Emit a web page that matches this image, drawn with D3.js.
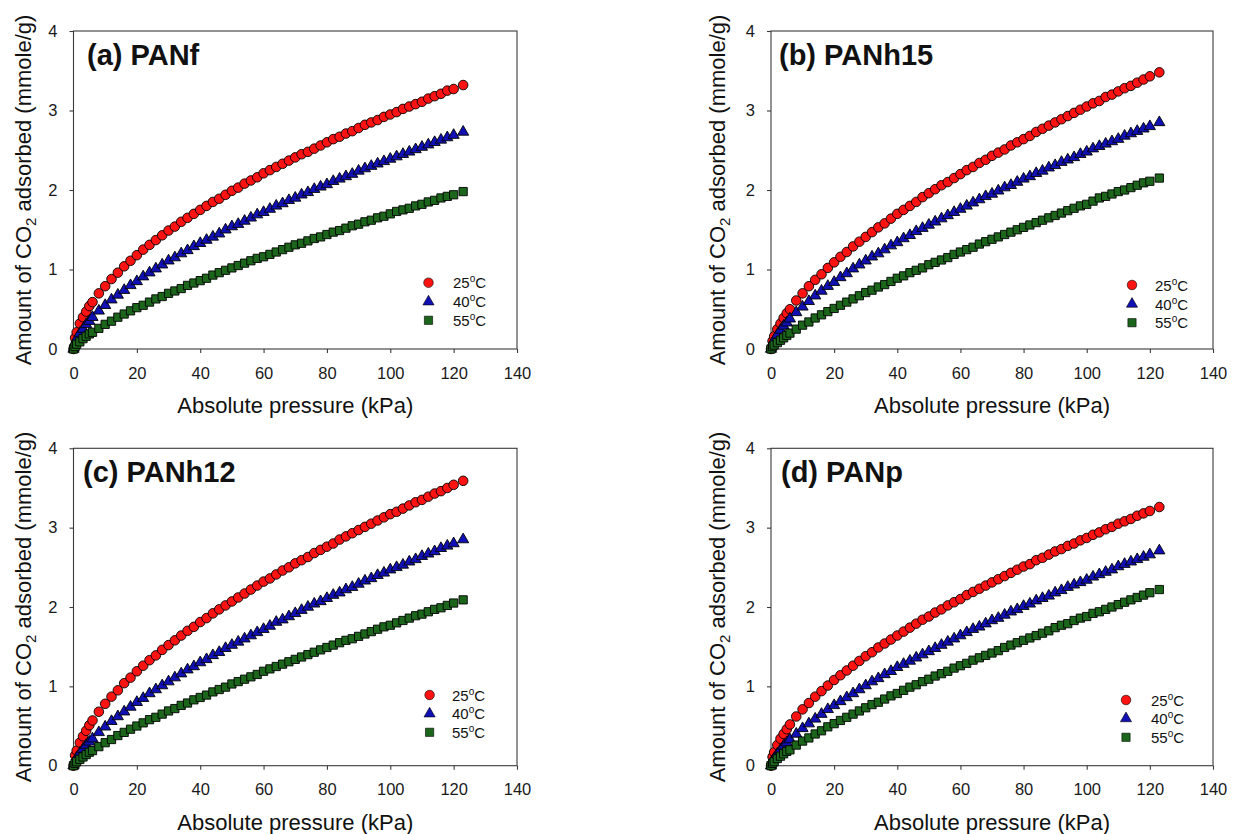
<!DOCTYPE html>
<html>
<head>
<meta charset="utf-8">
<script src="https://cdn.jsdelivr.net/npm/d3@7/dist/d3.min.js"></script>
<style>
html,body{margin:0;padding:0;background:#fff;}
svg{display:block;font-family:"Liberation Sans",Arial,sans-serif;}
</style>
</head>
<body>
<svg id="chart" width="1234" height="834"></svg>
<script>
// ---------- DATA ----------
const pressure = [0,0.5,1,2,3,4,5,6,8,10,12,14,16,18,20,22,24,26,28,30,32,34,36,38,40,42,44,46,48,50,52,54,56,58,60,62,64,66,68,70,72,74,76,78,80,82,84,86,88,90,92,94,96,98,100,102,104,106,108,110,112,114,116,118,120,123];

const panelTitles = ["(a) PANf", "(b) PANh15", "(c) PANh12", "(d) PANp"];
const temperatures = ["25", "40", "55"];
const xTicks = [0,20,40,60,80,100,120,140];
const yTicks = [0,1,2,3,4];

const a25 = [0,0.14,0.21,0.32,0.40,0.47,0.54,0.59,0.70,0.79,0.88,0.96,1.04,1.11,1.18,1.25,1.31,1.37,1.43,1.49,1.54,1.60,1.65,1.70,1.75,1.80,1.85,1.89,1.94,1.99,2.03,2.08,2.12,2.16,2.21,2.25,2.29,2.33,2.37,2.41,2.45,2.48,2.52,2.56,2.60,2.64,2.67,2.71,2.74,2.78,2.82,2.85,2.88,2.92,2.95,2.98,3.02,3.05,3.08,3.11,3.15,3.18,3.21,3.25,3.27,3.32];
const a40 = [0,0.08,0.13,0.20,0.25,0.31,0.35,0.40,0.48,0.55,0.62,0.68,0.74,0.80,0.85,0.91,0.96,1.01,1.06,1.11,1.15,1.20,1.24,1.29,1.33,1.37,1.41,1.45,1.50,1.54,1.57,1.61,1.65,1.69,1.72,1.76,1.80,1.83,1.87,1.90,1.94,1.97,2.01,2.04,2.07,2.11,2.14,2.17,2.20,2.24,2.27,2.30,2.33,2.36,2.39,2.42,2.45,2.48,2.51,2.54,2.57,2.60,2.63,2.66,2.69,2.73];
const a55 = [0,0.03,0.06,0.09,0.13,0.16,0.19,0.21,0.26,0.31,0.35,0.40,0.44,0.48,0.52,0.55,0.59,0.63,0.66,0.70,0.73,0.76,0.80,0.83,0.86,0.89,0.93,0.96,0.99,1.02,1.05,1.08,1.11,1.14,1.16,1.19,1.22,1.25,1.28,1.31,1.33,1.36,1.39,1.41,1.44,1.47,1.49,1.52,1.55,1.57,1.60,1.62,1.65,1.67,1.70,1.73,1.75,1.77,1.80,1.82,1.85,1.87,1.90,1.92,1.94,1.98];

const b25 = [0,0.10,0.16,0.25,0.32,0.39,0.45,0.50,0.61,0.70,0.79,0.87,0.94,1.02,1.09,1.16,1.22,1.29,1.35,1.41,1.47,1.53,1.58,1.64,1.70,1.75,1.80,1.85,1.91,1.96,2.01,2.06,2.10,2.15,2.20,2.25,2.29,2.34,2.38,2.43,2.47,2.51,2.56,2.60,2.64,2.68,2.73,2.77,2.81,2.85,2.89,2.93,2.97,3.01,3.05,3.09,3.12,3.17,3.20,3.24,3.28,3.31,3.35,3.39,3.43,3.48];
const b40 = [0,0.07,0.11,0.18,0.24,0.29,0.33,0.38,0.46,0.53,0.60,0.67,0.73,0.79,0.84,0.90,0.95,1.01,1.06,1.11,1.16,1.20,1.25,1.30,1.34,1.39,1.43,1.48,1.52,1.56,1.60,1.64,1.68,1.72,1.76,1.80,1.84,1.88,1.92,1.95,1.99,2.03,2.06,2.10,2.14,2.17,2.21,2.24,2.28,2.31,2.35,2.38,2.41,2.45,2.48,2.52,2.55,2.58,2.61,2.64,2.68,2.71,2.74,2.77,2.80,2.85];
const b55 = [0,0.03,0.05,0.08,0.11,0.14,0.17,0.20,0.25,0.30,0.34,0.39,0.43,0.47,0.51,0.55,0.59,0.63,0.67,0.71,0.74,0.78,0.81,0.85,0.89,0.92,0.96,0.99,1.02,1.06,1.09,1.12,1.15,1.19,1.22,1.25,1.28,1.32,1.35,1.38,1.41,1.44,1.47,1.50,1.53,1.56,1.59,1.62,1.65,1.68,1.71,1.74,1.77,1.80,1.82,1.86,1.90,1.92,1.95,1.98,2.00,2.03,2.06,2.09,2.11,2.15];

const c25 = [0,0.13,0.19,0.29,0.37,0.44,0.51,0.57,0.68,0.78,0.87,0.95,1.04,1.11,1.19,1.26,1.33,1.39,1.46,1.52,1.58,1.64,1.70,1.75,1.81,1.86,1.92,1.97,2.02,2.07,2.12,2.17,2.22,2.27,2.32,2.36,2.41,2.46,2.50,2.55,2.59,2.63,2.68,2.72,2.76,2.80,2.85,2.89,2.93,2.97,3.01,3.05,3.09,3.13,3.17,3.20,3.24,3.28,3.32,3.35,3.39,3.43,3.46,3.50,3.54,3.59];
const c40 = [0,0.06,0.10,0.16,0.21,0.26,0.30,0.34,0.42,0.49,0.56,0.62,0.68,0.74,0.80,0.85,0.91,0.96,1.01,1.06,1.11,1.16,1.21,1.25,1.30,1.34,1.39,1.43,1.48,1.52,1.56,1.60,1.64,1.68,1.72,1.76,1.81,1.84,1.88,1.92,1.96,2.00,2.04,2.07,2.11,2.15,2.18,2.22,2.25,2.29,2.33,2.36,2.40,2.43,2.47,2.50,2.53,2.57,2.60,2.64,2.67,2.70,2.74,2.77,2.80,2.85];
const c55 = [0,0.03,0.05,0.08,0.11,0.14,0.17,0.19,0.24,0.29,0.33,0.38,0.42,0.46,0.50,0.54,0.58,0.61,0.65,0.69,0.72,0.76,0.79,0.83,0.86,0.89,0.93,0.96,0.99,1.03,1.06,1.09,1.12,1.15,1.19,1.22,1.25,1.28,1.31,1.34,1.37,1.40,1.43,1.46,1.49,1.52,1.55,1.58,1.60,1.63,1.66,1.69,1.72,1.75,1.77,1.80,1.83,1.86,1.89,1.91,1.94,1.97,1.99,2.02,2.05,2.09];

const d25 = [0,0.11,0.17,0.26,0.34,0.40,0.46,0.52,0.62,0.71,0.79,0.87,0.94,1.01,1.08,1.14,1.20,1.26,1.32,1.38,1.43,1.49,1.54,1.59,1.64,1.69,1.74,1.79,1.84,1.88,1.93,1.97,2.02,2.06,2.10,2.15,2.19,2.23,2.27,2.31,2.35,2.39,2.43,2.47,2.51,2.54,2.59,2.62,2.66,2.70,2.73,2.77,2.80,2.84,2.87,2.91,2.94,2.98,3.01,3.05,3.08,3.11,3.15,3.18,3.21,3.26];
const d40 = [0,0.06,0.09,0.15,0.20,0.25,0.29,0.33,0.40,0.47,0.53,0.59,0.65,0.71,0.76,0.81,0.86,0.91,0.96,1.01,1.06,1.10,1.15,1.19,1.24,1.28,1.32,1.36,1.40,1.44,1.48,1.52,1.56,1.60,1.64,1.68,1.72,1.75,1.79,1.83,1.86,1.90,1.94,1.97,2.01,2.04,2.08,2.11,2.14,2.18,2.21,2.25,2.28,2.31,2.34,2.38,2.41,2.44,2.47,2.51,2.54,2.57,2.60,2.63,2.66,2.71];
const d55 = [0,0.03,0.05,0.09,0.12,0.15,0.18,0.20,0.26,0.31,0.35,0.40,0.44,0.49,0.53,0.57,0.61,0.65,0.69,0.73,0.77,0.80,0.84,0.88,0.91,0.95,0.99,1.02,1.06,1.09,1.13,1.16,1.19,1.23,1.26,1.29,1.33,1.36,1.39,1.42,1.45,1.49,1.52,1.55,1.58,1.61,1.64,1.67,1.70,1.74,1.77,1.79,1.83,1.86,1.88,1.92,1.94,1.97,2.00,2.03,2.06,2.09,2.12,2.15,2.18,2.22];

// ---------- LAYOUT ----------
const layout = [
  {series:[a25,a40,a55], x0:73.5, x1:517, y0:31, y1:349, titleX:87, yTitleX:31,
   legX:428.5, legRows:[282.7,301.7,320.3], legTextX:453},
  {series:[b25,b40,b55], x0:771, x1:1213, y0:31, y1:349, titleX:779, yTitleX:725,
   legX:1132, legRows:[285,304,322.7], legTextX:1155},
  {series:[c25,c40,c55], x0:73.5, x1:517, y0:448.3, y1:765.7, titleX:83, yTitleX:31,
   legX:429.6, legRows:[695,713.7,732.3], legTextX:452},
  {series:[d25,d40,d55], x0:771, x1:1213, y0:448.3, y1:765.7, titleX:781, yTitleX:725,
   legX:1126, legRows:[700,718.5,737.3], legTextX:1151}
];

const styles = [
  {fill:"#ff1212", symbol:d3.symbolCircle, size:72},
  {fill:"#1010b4", symbol:d3.symbolTriangle, size:54},
  {fill:"#1c661c", symbol:d3.symbolSquare, size:68}
];

const svg = d3.select("#chart");
svg.append("rect").attr("width",1234).attr("height",834).attr("fill","#fff");

layout.forEach((L, pi) => {
  const g = svg.append("g");
  const x = d3.scaleLinear().domain([0,140]).range([L.x0, L.x1]);
  const y = d3.scaleLinear().domain([0,4]).range([L.y1, L.y0]);

  // frame
  g.append("rect").attr("x",L.x0).attr("y",L.y0)
    .attr("width",L.x1-L.x0).attr("height",L.y1-L.y0)
    .attr("fill","none").attr("stroke","#3a3a3a").attr("stroke-width",1.1);

  // axes
  const xa = g.append("g").attr("transform",`translate(0,${L.y1})`)
    .call(d3.axisBottom(x).tickValues(xTicks).tickSize(4).tickSizeOuter(0).tickPadding(14).tickFormat(d3.format("d")));
  const ya = g.append("g").attr("transform",`translate(${L.x0},0)`)
    .call(d3.axisLeft(y).tickValues(yTicks).tickSize(4).tickSizeOuter(0).tickPadding(12).tickFormat(d3.format("d")));
  [xa,ya].forEach(a => {
    a.select(".domain").remove();
    a.selectAll(".tick line").attr("stroke","#3a3a3a").attr("stroke-width",1.1);
    a.selectAll(".tick text").attr("font-size",16.5).attr("fill","#1a1a1a")
      .attr("font-family","'Liberation Sans',Arial,sans-serif");
  });

  // axis titles
  g.append("text").attr("x",(L.x0+L.x1)/2).attr("y",L.y1+64)
    .attr("text-anchor","middle").attr("font-size",22).attr("fill","#111")
    .text("Absolute pressure (kPa)");

  const yt = g.append("text")
    .attr("transform",`translate(${L.yTitleX},${(L.y0+L.y1)/2}) rotate(-90)`)
    .attr("text-anchor","middle").attr("font-size",22).attr("fill","#111");
  yt.append("tspan").text("Amount of CO");
  yt.append("tspan").attr("dy",5).attr("font-size",15).text("2");
  yt.append("tspan").attr("dy",-5).text(" adsorbed (mmole/g)");

  // panel title
  g.append("text").attr("x",L.titleX).attr("y",L.y0+34)
    .attr("font-size",29).attr("font-weight","bold").attr("fill","#111")
    .text(panelTitles[pi]);

  // data markers
  L.series.forEach((vals, si) => {
    const st = styles[si];
    const sym = d3.symbol().type(st.symbol).size(st.size);
    const n = Math.min(vals.length, pressure.length);
    const pts = d3.range(n).map(i => ({p: pressure[i], v: vals[i]}));
    g.append("g").selectAll("path").data(pts).join("path")
      .attr("d", sym)
      .attr("transform", d => `translate(${x(d.p)},${y(d.v)})`)
      .attr("fill", st.fill).attr("stroke","#000").attr("stroke-width",0.9);
  });

  // legend
  temperatures.forEach((t, si) => {
    const st = styles[si];
    const ry = L.legRows[si];
    g.append("path").attr("d", d3.symbol().type(st.symbol).size(st.size)())
      .attr("transform",`translate(${L.legX},${ry})`)
      .attr("fill",st.fill).attr("stroke","#000").attr("stroke-width",0.6);
    const tx = g.append("text").attr("x",L.legTextX).attr("y",ry+5.5)
      .attr("font-size",15).attr("fill","#111");
    tx.append("tspan").text(t);
    tx.append("tspan").attr("dy",-6).attr("font-size",10).text("o");
    tx.append("tspan").attr("dy",6).text("C");
  });
});
</script>
</body>
</html>
